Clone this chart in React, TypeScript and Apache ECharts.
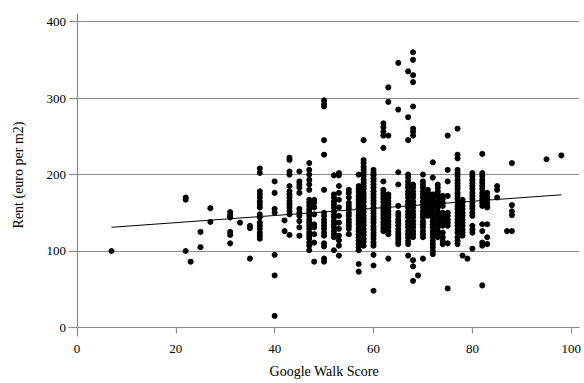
import React, { useEffect, useRef } from "react";
import * as echarts from "echarts";

// Google Walk Score columns (integer scores) and the rents observed at each
const walkScores = [7, 22, 23, 25, 27, 31, 33, 35, 37, 40, 42, 43, 45, 47, 48, 50, 52, 53, 55, 57, 58, 60, 62, 63, 65, 67, 68, 69, 70, 71, 72, 73, 74, 75, 77, 78, 79, 80, 82, 83, 85, 87, 88, 95, 98];
const rentsByScore: number[][] = [
  [100],
  [170, 167, 100],
  [86],
  [125, 105],
  [156, 138],
  [151, 147, 144, 125, 121, 110],
  [137],
  [133, 130, 90],
  [208, 202, 178, 174, 170, 165, 161, 157, 148, 144, 137, 133, 129, 124, 120, 116],
  [191, 176, 155, 150, 95, 68, 15],
  [140, 126],
  [222, 219, 204, 200, 185, 178, 174, 170, 165, 161, 157, 152, 148, 121],
  [204, 191, 187, 183, 176, 155, 150, 146, 139, 131, 120],
  [215, 206, 200, 193, 187, 180, 167, 163, 159, 154, 150, 146, 141, 137, 133, 129, 124, 120, 116, 111, 107, 101],
  [167, 163, 157, 148, 135, 131, 122, 111, 86],
  [297, 292, 289, 245, 226, 180, 150, 146, 141, 137, 133, 129, 124, 120, 110, 106, 90, 86],
  [199, 174, 170, 165, 161, 157, 152, 148, 144, 139, 135, 131, 126, 122, 118, 101],
  [202, 199, 185, 176, 167, 157, 146, 137, 129, 120, 114, 107, 94],
  [180, 176, 170, 163, 159, 155, 150, 146, 141, 137, 133, 129, 122],
  [200, 185, 181, 177, 172, 168, 164, 160, 156, 151, 147, 143, 139, 135, 130, 126, 122, 118, 114, 109, 105, 101, 83, 73],
  [245, 219, 215, 210, 206, 202, 198, 193, 189, 185, 181, 176, 172, 168, 164, 159, 155, 151, 146, 142, 138, 134, 129, 125, 121, 116, 112, 107],
  [206, 202, 199, 195, 191, 187, 183, 178, 174, 170, 166, 162, 157, 153, 149, 145, 141, 137, 132, 128, 124, 120, 116, 111, 107, 95, 81, 48],
  [267, 262, 256, 251, 235, 191, 180, 176, 172, 168, 164, 159, 155, 151, 147, 143, 138, 134, 130, 126],
  [314, 295, 251, 174, 170, 165, 161, 157, 152, 148, 144, 139, 135, 131, 126, 122, 90],
  [346, 285, 203, 187, 159, 150, 146, 141, 137, 133, 128, 124, 120, 116, 112, 109],
  [335, 275, 245, 200, 196, 191, 187, 183, 178, 174, 170, 165, 161, 157, 152, 148, 144, 139, 135, 131, 126, 122, 118, 113, 109, 94],
  [360, 350, 330, 321, 289, 260, 256, 251, 187, 183, 178, 174, 170, 165, 161, 157, 152, 148, 144, 139, 135, 131, 126, 122, 118, 88, 80, 61],
  [68],
  [200, 191, 187, 183, 178, 174, 170, 165, 161, 157, 152, 148, 144, 139, 135, 131, 126, 122, 118, 90],
  [180, 176, 172, 167, 163, 159, 154, 150, 146],
  [216, 196, 174, 170, 165, 161, 157, 152, 148, 144, 139, 135, 131, 126, 122, 118, 113, 109, 105, 100, 96],
  [187, 183, 178, 174, 170, 165, 161, 157, 152, 148, 144, 139, 135, 131, 126, 122, 118],
  [172, 168, 163, 159, 150, 146, 141, 137, 133, 124, 118, 113, 109],
  [251, 206, 191, 172, 150, 146, 141, 137, 133, 110, 51],
  [260, 226, 221, 206, 202, 198, 193, 189, 185, 181, 176, 172, 168, 163, 159, 155, 150, 146, 141, 137, 133, 128, 124, 118, 113, 109],
  [167, 163, 159, 155, 150, 146, 141, 137, 133, 128, 124, 120, 94],
  [90],
  [202, 198, 193, 189, 185, 181, 176, 172, 168, 163, 159, 155, 150, 146, 133, 128, 124, 103],
  [227, 202, 198, 193, 189, 185, 181, 176, 172, 168, 163, 159, 135, 126, 111, 107, 55],
  [176, 172, 168, 163, 159, 157, 135, 118, 109],
  [185, 180, 170],
  [126],
  [215, 160, 152, 147, 126],
  [220],
  [225],
];

// Fitted regression line end points
const fitScores = [7, 98];
const fitRents = [131, 173.5];

const xTicks = [0, 20, 40, 60, 80, 100];
const yTicks = [0, 100, 200, 300, 400];
const gridValues = [100, 200, 300, 400];

const FONT = "Liberation Serif";
const GRAY = "#8a8a8a";

export default function App() {
  const ref = useRef<HTMLDivElement>(null);
  useEffect(() => {
    if (!ref.current) return;
    const chart = echarts.init(ref.current, undefined, { renderer: "svg" });
    const points: number[][] = [];
    walkScores.forEach((s, i) => {
      rentsByScore[i].forEach((r) => points.push([s, r]));
    });
    chart.setOption({
      animation: false,
      backgroundColor: "#fff",
      textStyle: { fontFamily: FONT },
      grid: { left: 69, right: 0, top: 14, bottom: 43, containLabel: false },
      xAxis: {
        type: "value",
        min: -1.6,
        max: 101.6,
        name: "Google Walk Score",
        nameLocation: "middle",
        nameGap: 28,
        nameTextStyle: { fontFamily: FONT, fontSize: 14, color: "#000" },
        axisLine: { show: true, lineStyle: { color: GRAY, width: 1.2 } },
        axisTick: { show: true, length: 6, customValues: xTicks, lineStyle: { color: GRAY, width: 1.2 } },
        axisLabel: { customValues: xTicks, fontFamily: FONT, fontSize: 13, color: "#000", margin: 6 },
        splitLine: { show: false },
      },
      yAxis: {
        type: "value",
        min: -11.2,
        max: 410,
        name: "Rent (euro per m2)",
        nameLocation: "middle",
        nameGap: 44,
        nameTextStyle: { fontFamily: FONT, fontSize: 14, color: "#000" },
        axisLine: { show: true, lineStyle: { color: GRAY, width: 1.2 } },
        axisTick: { show: true, length: 7, customValues: yTicks, lineStyle: { color: GRAY, width: 1.2 } },
        axisLabel: { customValues: yTicks, fontFamily: FONT, fontSize: 13, color: "#000", margin: 3 },
        splitLine: { show: false },
      },
      series: [
        {
          type: "scatter",
          data: points,
          symbol: "circle",
          symbolSize: 6,
          itemStyle: { color: "#000", opacity: 1 },
          markLine: {
            silent: true,
            symbol: "none",
            label: { show: false },
            lineStyle: { color: GRAY, width: 1.2, type: "solid" },
            data: gridValues.map((v) => ({ yAxis: v })),
            z: 1,
          },
          z: 3,
        },
        {
          type: "line",
          data: fitScores.map((s, i) => [s, fitRents[i]]),
          showSymbol: false,
          lineStyle: { color: "#000", width: 1 },
          z: 4,
        },
      ],
    });
    return () => chart.dispose();
  }, []);
  return (
    <div
      ref={ref}
      style={{ position: "absolute", left: 0, top: 0, width: 584, height: 383 }}
    />
  );
}
